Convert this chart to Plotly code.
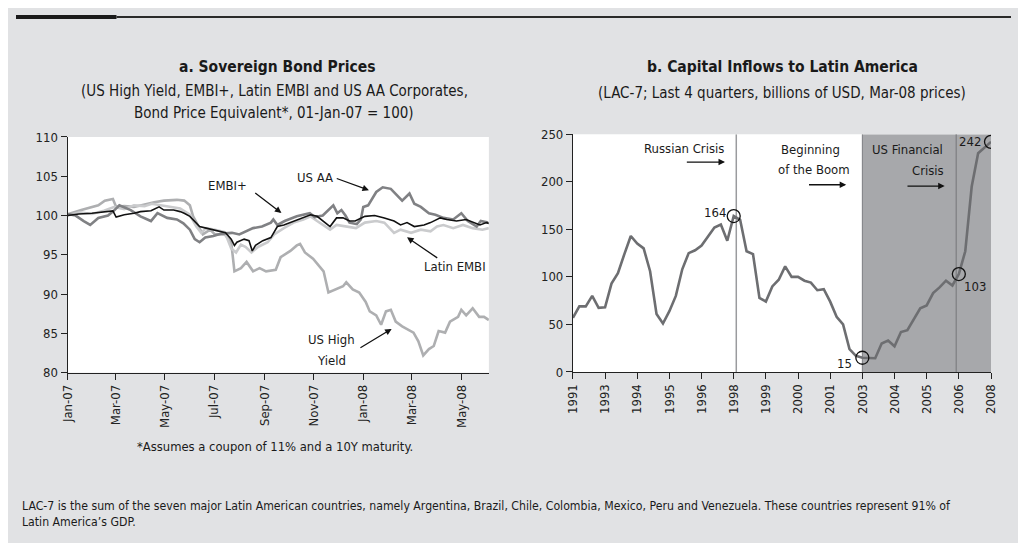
import plotly.graph_objects as go

# ---------------- Panel a: Sovereign bond prices ----------------
hy_dates = ["2007-01-01","2007-01-02","2007-01-18","2007-02-08","2007-02-16","2007-02-26","2007-03-02","2007-03-12",
            "2007-03-24","2007-04-05","2007-04-18","2007-04-30","2007-05-16","2007-05-25","2007-06-01","2007-06-05",
            "2007-06-09","2007-06-13","2007-06-17","2007-06-26","2007-07-02","2007-07-14","2007-07-22","2007-07-26",
            "2007-08-03","2007-08-10","2007-08-18","2007-08-26","2007-09-03","2007-09-15","2007-09-21","2007-10-03",
            "2007-10-11","2007-10-15","2007-10-21","2007-10-31","2007-11-13","2007-11-19","2007-11-27","2007-12-07",
            "2007-12-11","2007-12-19","2007-12-27","2008-01-04","2008-01-09","2008-01-17","2008-01-23","2008-01-29",
            "2008-02-04","2008-02-10","2008-02-18","2008-02-26","2008-03-03","2008-03-09","2008-03-15","2008-03-22",
            "2008-03-28","2008-04-03","2008-04-11","2008-04-17","2008-04-27","2008-05-01","2008-05-07","2008-05-15",
            "2008-05-23","2008-05-29","2008-06-04"]
hy_vals = [100.0,100.2,100.7,101.3,101.9,102.1,101.1,101.2,
           101.1,101.4,101.7,101.9,102.0,101.9,101.3,99.9,
           99.1,98.2,97.6,98.2,97.6,97.6,96.6,92.9,
           93.3,94.1,92.9,93.3,92.9,93.1,94.7,95.5,
           96.2,96.4,95.3,94.5,92.9,90.2,90.6,91.0,
           91.5,90.6,90.2,89.0,87.8,87.3,86.1,87.8,
           88.0,86.5,85.9,85.5,85.1,84.0,82.2,83.0,
           83.4,85.3,85.1,86.5,87.1,88.0,87.3,88.2,
           87.1,87.1,86.7]

embi_dates = ["2007-01-01","2007-01-15","2007-01-31","2007-02-15","2007-02-26","2007-03-02","2007-03-12","2007-03-24",
              "2007-04-01","2007-04-14","2007-04-24","2007-04-30","2007-05-12","2007-05-20","2007-05-25","2007-06-01",
              "2007-06-07","2007-06-13","2007-06-21","2007-07-05","2007-07-15","2007-07-22","2007-07-26","2007-07-29",
              "2007-08-07","2007-08-13","2007-08-17","2007-08-21","2007-08-30","2007-09-09","2007-09-17","2007-09-25",
              "2007-10-03","2007-10-11","2007-10-19","2007-10-28","2007-11-05","2007-11-13","2007-11-21","2007-11-29",
              "2007-12-07","2007-12-15","2007-12-22","2008-01-03","2008-01-15","2008-01-27","2008-02-08","2008-02-16",
              "2008-02-24","2008-03-04","2008-03-16","2008-03-24","2008-04-05","2008-04-13","2008-04-25","2008-05-07",
              "2008-05-16","2008-05-24","2008-06-01","2008-06-04"]
embi_vals = [100.0,100.2,100.3,100.5,100.6,99.8,100.1,100.3,
             100.5,100.6,101.1,100.7,100.7,100.5,100.3,99.9,
             99.3,98.6,98.4,98.0,97.8,97.0,96.2,96.6,
             97.0,96.8,95.5,96.2,96.8,97.2,98.6,98.8,
             99.1,99.5,99.7,100.1,99.9,99.3,98.6,99.7,
             99.7,99.3,99.3,99.9,100.0,99.7,99.3,98.8,
             99.1,98.6,98.8,99.1,99.7,99.5,99.3,99.5,
             99.1,98.8,99.1,99.0]

latin_dates = ["2007-01-01","2007-01-16","2007-01-31","2007-02-15","2007-02-28","2007-03-12","2007-03-24","2007-04-06",
               "2007-04-15","2007-04-26","2007-05-06","2007-05-20","2007-06-01","2007-06-09","2007-06-15","2007-06-21",
               "2007-07-02","2007-07-14","2007-07-22","2007-07-28","2007-08-03","2007-08-09","2007-08-16","2007-08-24",
               "2007-09-05","2007-09-13","2007-09-25","2007-10-07","2007-10-19","2007-10-28","2007-11-05","2007-11-13",
               "2007-11-21","2007-11-29","2007-12-11","2007-12-23","2008-01-03","2008-01-17","2008-01-27","2008-02-08",
               "2008-02-16","2008-02-29","2008-03-12","2008-03-24","2008-04-01","2008-04-09","2008-04-21","2008-05-03",
               "2008-05-15","2008-05-27","2008-06-04"]
latin_vals = [100.0,100.4,100.2,100.6,101.1,100.8,101.3,101.2,
              101.5,101.3,101.2,100.9,100.1,98.6,97.8,98.4,
              98.2,97.9,95.8,95.3,96.3,96.0,95.3,96.0,
              96.6,97.6,98.4,99.1,99.5,99.9,99.3,98.8,
              98.2,98.8,98.6,98.4,99.1,99.3,99.1,97.8,
              98.2,97.8,98.2,98.0,98.6,98.8,98.4,98.8,
              98.4,98.2,98.4]

usaa_dates = ["2007-01-01","2007-01-11","2007-01-21","2007-01-29","2007-02-08","2007-02-20","2007-02-27","2007-03-06",
              "2007-03-20","2007-04-01","2007-04-14","2007-04-22","2007-05-04","2007-05-16","2007-05-24","2007-06-01",
              "2007-06-07","2007-06-13","2007-06-20","2007-06-30","2007-07-10","2007-07-23","2007-08-01","2007-08-09",
              "2007-08-18","2007-08-29","2007-09-09","2007-09-12","2007-09-17","2007-09-26","2007-10-11","2007-10-27",
              "2007-11-02","2007-11-12","2007-11-21","2007-11-25","2007-11-30","2007-12-05","2007-12-10","2007-12-15",
              "2007-12-24","2007-12-29","2008-01-01","2008-01-07","2008-01-17","2008-01-25","2008-02-04","2008-02-12",
              "2008-02-18","2008-02-27","2008-03-04","2008-03-12","2008-03-22","2008-03-30","2008-04-09","2008-04-21",
              "2008-05-01","2008-05-09","2008-05-20","2008-05-25","2008-06-03"]
usaa_vals = [100.2,100.0,99.3,98.8,99.7,100.0,100.6,101.3,
             100.7,99.9,99.3,100.3,99.7,99.5,99.0,98.2,
             97.0,96.6,97.2,97.4,97.7,97.8,97.6,98.0,
             98.4,98.6,99.1,99.5,98.8,99.3,99.9,100.3,
             99.8,100.0,100.9,101.3,100.3,100.7,100.0,99.1,
             98.9,99.5,101.1,101.3,103.0,103.6,103.4,102.6,
             101.9,102.8,101.5,101.1,100.3,100.1,99.7,99.5,
             100.3,99.3,98.6,99.3,99.1]

month_ticks = ["2007-01-01","2007-03-01","2007-05-01","2007-07-01","2007-09-01","2007-11-01",
               "2008-01-01","2008-03-01","2008-05-01"]

# ---------------- Panel b: Capital inflows (quarterly) ----------------
inflows = [57,69,69,80,67.5,68,93,104,124,143,135,130,106,61,51,64,80,108,125,128,
           133,142,152,155,138,164,160,127,124,78,74,90,97,111,100,100,96,94,86,87,
           74,58,50,24,17,15,15,14.5,30,33,27,42,44,56,67,70,83,89,96,91,
           103,127,195,230,236,242]
year_ticks = ["1991","1993","1994","1995","1996","1998","1999","2000","2001","2003","2004","2005","2006","2008"]
highlight_idx = [25, 45, 60, 65]
highlight_txt = ["164", "15", "103", "242"]
russian_crisis_x = 25.4
boom_start_x = 45
us_crisis_x = 59.6

FONT = "DejaVu Sans Condensed, Liberation Sans Narrow, Arial Narrow, sans-serif"
BG = "#e1e2e4"
SHADE = "#a7a8ab"

# the page body keeps an 8px margin, so the figure is 1010x535 placed at (8, 8)
W, H, OFF = 1010, 535, 8
def PX(x):
    return (x - OFF) / W
def PY(y):
    return 1 - (y - OFF) / H

fig = go.Figure()

fig.add_trace(go.Scatter(x=hy_dates, y=hy_vals, mode="lines", line=dict(color="#aeafb1", width=2.6),
                         name="US High Yield", xaxis="x", yaxis="y"))
fig.add_trace(go.Scatter(x=latin_dates, y=latin_vals, mode="lines", line=dict(color="#cacbcd", width=2.6),
                         name="Latin EMBI", xaxis="x", yaxis="y"))
fig.add_trace(go.Scatter(x=usaa_dates, y=usaa_vals, mode="lines", line=dict(color="#808184", width=2.6),
                         name="US AA", xaxis="x", yaxis="y"))
fig.add_trace(go.Scatter(x=embi_dates, y=embi_vals, mode="lines", line=dict(color="#111111", width=1.6),
                         name="EMBI+", xaxis="x", yaxis="y"))

qidx = list(range(len(inflows)))
fig.add_trace(go.Scatter(x=qidx, y=inflows, mode="lines", line=dict(color="#6d6e71", width=2.6),
                         name="Capital inflows", xaxis="x2", yaxis="y2"))
fig.add_trace(go.Scatter(x=[qidx[i] for i in highlight_idx], y=[inflows[i] for i in highlight_idx],
                         mode="markers", marker=dict(symbol="circle-open", size=13, color="#111111",
                                                     line=dict(width=1.3)),
                         xaxis="x2", yaxis="y2", hoverinfo="skip"))

ax_common = dict(showgrid=False, zeroline=False, showline=True, linecolor="#222", linewidth=1,
                 ticks="outside", ticklen=6, tickcolor="#222", tickfont=dict(family=FONT, size=13, color="#222"))

fig.update_layout(
    width=W, height=H, margin=dict(l=0, r=0, t=0, b=0),
    paper_bgcolor=BG, plot_bgcolor="white", showlegend=False,
    font=dict(family=FONT, size=13, color="#222"),
    xaxis=dict(domain=[PX(60.3), PX(488)], type="date", range=["2007-01-01", "2008-06-04"],
               tickvals=month_ticks, tickformat="%b-%y", tickangle=-90, anchor="y", **ax_common),
    yaxis=dict(domain=[PY(376), PY(133.5)], range=[80, 110], dtick=5, anchor="x", **ax_common),
    xaxis2=dict(domain=[PX(573.3), PX(997.7)], range=[0, 65], tickvals=list(range(0, 66, 5)),
                ticktext=year_ticks, tickangle=-90, anchor="y2", **ax_common),
    yaxis2=dict(domain=[PY(375.3), PY(130.7)], range=[0, 250], dtick=50, anchor="x2", **ax_common),
)

shapes = [
    dict(type="rect", xref="paper", yref="paper", x0=0, x1=PX(110), y0=1 - 4 / H, y1=1,
         fillcolor="#1a1a1a", line_width=0),
    dict(type="line", xref="paper", yref="paper", x0=PX(110), x1=1, y0=1 - 2 / H, y1=1 - 2 / H,
         line=dict(color="#2a2a2a", width=2)),
    dict(type="rect", xref="x2", yref="y2", x0=boom_start_x, x1=65, y0=0, y1=250, fillcolor=SHADE,
         line_width=0, layer="below"),
    dict(type="line", xref="x2", yref="y2", x0=boom_start_x, x1=boom_start_x, y0=0, y1=250,
         line=dict(color="#7d7e81", width=1), layer="below"),
    dict(type="line", xref="x2", yref="y2", x0=russian_crisis_x, x1=russian_crisis_x, y0=0, y1=250,
         line=dict(color="#9a9b9e", width=1.5), layer="below"),
    dict(type="line", xref="x2", yref="y2", x0=us_crisis_x, x1=us_crisis_x, y0=0, y1=250,
         line=dict(color="#858689", width=1.5), layer="below"),
]
fig.update_layout(shapes=shapes)

ann = []
def txt(x, y, t, xref="paper", yref="paper", size=13, xanchor="center", bold=False):
    ann.append(dict(x=x, y=y, xref=xref, yref=yref, text=("<b>%s</b>" % t) if bold else t, showarrow=False,
                    xanchor=xanchor, yanchor="middle", borderpad=0,
                    font=dict(family=FONT, size=size, color="#1a1a1a")))

def arrow(x, y, axp, ayp, xref, yref):
    ann.append(dict(x=x, y=y, xref=xref, yref=yref, text="", showarrow=True, ax=axp, ay=ayp,
                    arrowhead=2, arrowsize=1, arrowwidth=1.3, arrowcolor="#111"))

# titles and notes
txt(PX(273), PY(62), "a. Sovereign Bond Prices", size=15.5, bold=True)
txt(PX(270), PY(86), "(US High Yield, EMBI+, Latin EMBI and US AA Corporates,", size=15)
txt(PX(270), PY(109), "Bond Price Equivalent*, 01-Jan-07 = 100)", size=15)
txt(PX(786), PY(61), "b. Capital Inflows to Latin America", size=15.5, bold=True)
txt(PX(786), PY(88), "(LAC-7; Last 4 quarters, billions of USD, Mar-08 prices)", size=15)
txt(PX(271), PY(452), "*Assumes a coupon of 11% and a 10Y maturity.", size=12.9)
txt(PX(13), PY(513), "LAC-7 is the sum of the seven major Latin American countries, namely Argentina, Brazil, Chile, "
    "Colombia, Mexico, Peru and Venezuela. These countries represent 91% of", size=12.2, xanchor="left")
txt(PX(13), PY(530), "Latin America’s GDP.", size=12.2, xanchor="left")

# panel a labels
txt("2007-07-17", 103.84, "EMBI+", "x", "y")
arrow("2007-09-22", 100.33, -27.7, -21, "x", "y")
txt("2007-11-02", 104.87, "US AA", "x", "y")
arrow("2008-01-08", 103.22, -33.7, -12.3, "x", "y")
txt("2008-04-23", 93.52, "Latin EMBI", "x", "y")
arrow("2008-02-24", 97.23, 31.7, 21.6, "x", "y")
txt("2007-11-23", 84.24, "US High", "x", "y")
txt("2007-11-23", 81.6, "Yield", "x", "y")
arrow("2008-02-05", 85.57, -32.7, 19.7, "x", "y")

# panel b labels
txt(23.65, 235.4, "Russian Crisis", "x2", "y2", xanchor="right")
arrow(23.65, 220.8, -39.7, 0, "x2", "y2")
txt(41.72, 234.4, "Beginning", "x2", "y2", xanchor="right")
txt(43.25, 213.2, "of the Boom", "x2", "y2", xanchor="right")
arrow(42.49, 196.9, -38.7, 0, "x2", "y2")
txt(57.7, 234.4, "US Financial", "x2", "y2", xanchor="right")
txt(57.8, 211.5, "Crisis", "x2", "y2", xanchor="right")
arrow(57.8, 195.5, -38.7, 0, "x2", "y2")

txt(24.0, 167.2, highlight_txt[0], "x2", "y2", xanchor="right")
txt(43.5, 8.8, highlight_txt[1], "x2", "y2", xanchor="right")
txt(60.6, 90, highlight_txt[2], "x2", "y2", xanchor="left")
txt(63.57, 242.2, highlight_txt[3], "x2", "y2", xanchor="right")

fig.update_layout(annotations=ann)

fig.write_html("out.html", config={"displayModeBar": False})
